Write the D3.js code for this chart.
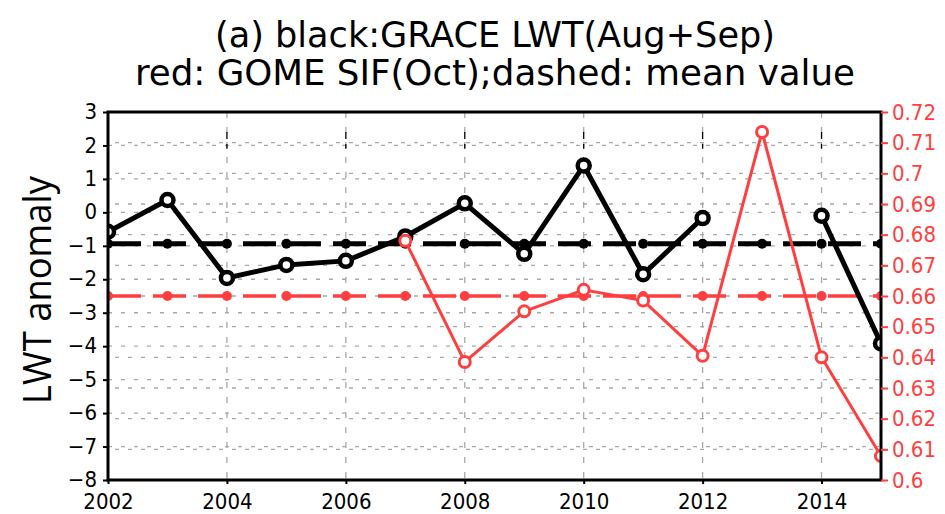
<!DOCTYPE html>
<html><head><meta charset="utf-8">
<script src="https://cdn.jsdelivr.net/npm/d3@7"></script>
<style>body{margin:0;background:#fff}svg{display:block}</style>
</head><body><svg id="c" width="945" height="514"></svg>
<script>
const years = [2002,2003,2004,2005,2006,2007,2008,2009,2010,2011,2012,2013,2014,2015];
const lwt = [-0.58,0.37,-1.96,-1.57,-1.45,-0.72,0.27,-1.24,1.40,-1.85,-0.17,null,-0.10,-3.92];
const sif = [null,null,null,null,null,0.678,0.6385,0.655,0.662,0.6585,0.6405,0.7135,0.640,0.6078];
const lwtMean = [-0.94,-0.94,-0.94,-0.94,-0.94,-0.94,-0.94,-0.94,-0.94,-0.94,-0.94,-0.94,-0.94,-0.94];
const sifMean = [0.66,0.66,0.66,0.66,0.66,0.66,0.66,0.66,0.66,0.66,0.66,0.66,0.66,0.66];
const xTicks = [2002,2004,2006,2008,2010,2012,2014];
const yLeftTicks = [3,2,1,0,-1,-2,-3,-4,-5,-6,-7,-8];
const yRightTicks = [0.72,0.71,0.7,0.69,0.68,0.67,0.66,0.65,0.64,0.63,0.62,0.61,0.6];
const titleLines = ["(a) black:GRACE LWT(Aug+Sep)","red: GOME SIF(Oct);dashed: mean value"];
const yLabel = "LWT anomaly";

const L=108,R=881,T=112,B=480;
const RED="#ff3f3f", GRID="#a8a8a8";
const FONT="'Liberation Sans Narrow','DejaVu Sans Condensed','DejaVu Sans',sans-serif";
const svg=d3.select("#c");
const x=d3.scaleLinear().domain([2002,2015]).range([L,R]);
const y=d3.scaleLinear().domain([-8,3]).range([B,T]);
const y2=d3.scaleLinear().domain([0.6,0.72]).range([B,T]);

svg.append("defs").append("clipPath").attr("id","clip").append("rect")
  .attr("x",L).attr("y",T).attr("width",R-L).attr("height",B-T);

// grid
const g=svg.append("g");
g.selectAll(".hl").data(yLeftTicks).join("line")
  .attr("x1",L).attr("x2",R).attr("y1",d=>y(d)).attr("y2",d=>y(d))
  .attr("stroke",GRID).attr("stroke-width",1.3).attr("stroke-dasharray","4,9");
g.selectAll(".hr").data(yRightTicks).join("line")
  .attr("x1",L).attr("x2",R).attr("y1",d=>y2(d)).attr("y2",d=>y2(d))
  .attr("stroke",GRID).attr("stroke-width",1.3).attr("stroke-dasharray","4,9").attr("stroke-dashoffset",6);
g.selectAll(".vl").data(xTicks.slice(1)).join("line")
  .attr("x1",d=>x(d)).attr("x2",d=>x(d)).attr("y1",T).attr("y2",B)
  .attr("stroke",GRID).attr("stroke-width",1.3).attr("stroke-dasharray","6,9");
g.selectAll(".vb").data(xTicks.slice(1)).join("line")
  .attr("x1",d=>x(d)).attr("x2",d=>x(d)).attr("y1",y(2.4)).attr("y2",y(1.9))
  .attr("stroke","#000").attr("stroke-width",1.3).attr("stroke-dasharray","7,5");

const plot=svg.append("g").attr("clip-path","url(#clip)");
const idx=years.map((d,i)=>i);
// black mean
plot.append("path").datum(idx)
  .attr("d",d3.line().x(i=>x(years[i])).y(i=>y(lwtMean[i])))
  .attr("fill","none").attr("stroke","#000").attr("stroke-width",5).attr("stroke-dasharray","33,12");
plot.selectAll(".bm").data(idx).join("circle")
  .attr("cx",i=>x(years[i])).attr("cy",i=>y(lwtMean[i])).attr("r",5).attr("fill","#000");
// red mean
plot.append("path").datum(idx)
  .attr("d",d3.line().x(i=>x(years[i])).y(i=>y2(sifMean[i])))
  .attr("fill","none").attr("stroke",RED).attr("stroke-width",3.5).attr("stroke-dasharray","33,12");
plot.selectAll(".rm").data(idx).join("circle")
  .attr("cx",i=>x(years[i])).attr("cy",i=>y2(sifMean[i])).attr("r",5).attr("fill",RED);
// black line
plot.append("path").datum(idx)
  .attr("d",d3.line().defined(i=>lwt[i]!==null).x(i=>x(years[i])).y(i=>y(lwt[i])))
  .attr("fill","none").attr("stroke","#000").attr("stroke-width",5).attr("stroke-linejoin","round");
plot.selectAll(".bc").data(idx.filter(i=>lwt[i]!==null)).join("circle")
  .attr("cx",i=>x(years[i])).attr("cy",i=>y(lwt[i])).attr("r",6).attr("fill","#fff")
  .attr("stroke","#000").attr("stroke-width",4.5);
// red line
plot.append("path").datum(idx)
  .attr("d",d3.line().defined(i=>sif[i]!==null).x(i=>x(years[i])).y(i=>y2(sif[i])))
  .attr("fill","none").attr("stroke",RED).attr("stroke-width",3).attr("stroke-linejoin","round");
plot.selectAll(".rc").data(idx.filter(i=>sif[i]!==null)).join("circle")
  .attr("cx",i=>x(years[i])).attr("cy",i=>y2(sif[i])).attr("r",5.5).attr("fill","#fff")
  .attr("stroke",RED).attr("stroke-width",3);

// frame
svg.append("rect").attr("x",L).attr("y",T).attr("width",R-L).attr("height",B-T)
  .attr("fill","none").attr("stroke","#000").attr("stroke-width",3);

// axes
const axL=svg.append("g").attr("transform",`translate(${L},0)`)
  .call(d3.axisLeft(y).tickValues(yLeftTicks).tickSize(5).tickPadding(6).tickFormat(d3.format("d")));
const axB=svg.append("g").attr("transform",`translate(0,${B})`)
  .call(d3.axisBottom(x).tickValues(xTicks).tickSize(4).tickPadding(8).tickFormat(d3.format("d")));
const axR=svg.append("g").attr("transform",`translate(${R},0)`)
  .call(d3.axisRight(y2).tickValues(yRightTicks).tickSize(7).tickPadding(4).tickFormat(d=>String(+d.toFixed(2))));
[axL,axB,axR].forEach(a=>{a.select(".domain").remove();
  a.selectAll("text").attr("font-family",FONT).attr("font-size",22).attr("fill","#000");
  a.selectAll("line").attr("stroke","#000").attr("stroke-width",2);});
axR.selectAll("text").attr("fill",RED);
axR.selectAll("line").attr("stroke",RED);
axL.selectAll("text").attr("dy","0.3em");
axB.selectAll("text").attr("dy","0.75em");

// titles
svg.selectAll(".tt").data(titleLines).join("text")
  .attr("x",495).attr("y",(d,i)=>i===0?47:85).attr("text-anchor","middle")
  .attr("font-family",FONT).attr("font-size",35)
  .attr("textLength",(d,i)=>i===0?560:720).attr("lengthAdjust","spacingAndGlyphs")
  .text(d=>d);
svg.append("text").attr("transform","translate(51,290) rotate(-90)").attr("text-anchor","middle")
  .attr("font-family","'Open Sans','Noto Sans',sans-serif").attr("font-size",38)
  .attr("textLength",228).attr("lengthAdjust","spacingAndGlyphs").text(yLabel);
</script></body></html>
